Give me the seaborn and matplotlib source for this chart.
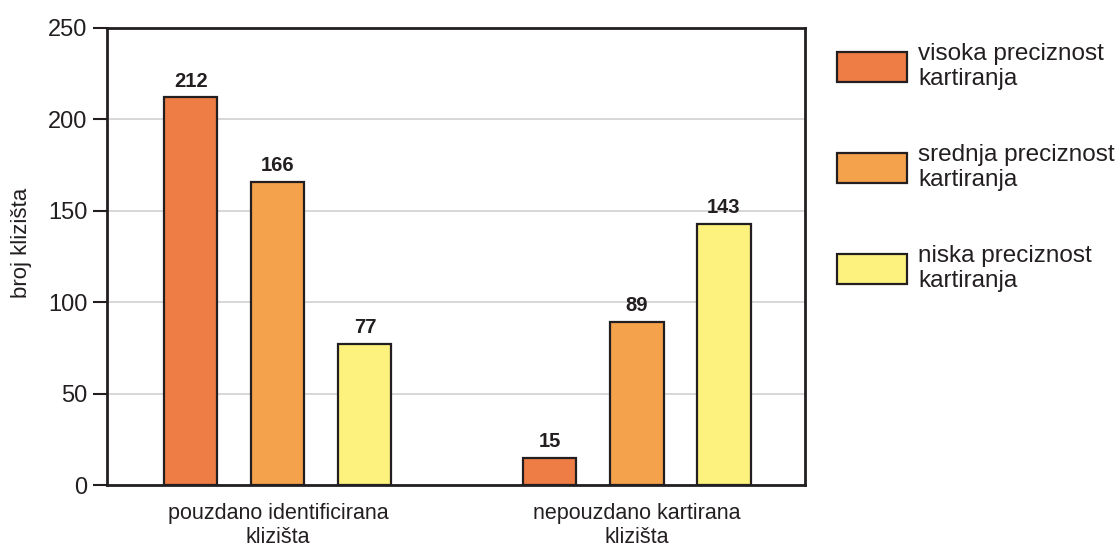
import matplotlib
matplotlib.use("Agg")
import matplotlib.pyplot as plt
import pandas as pd
import seaborn as sns
from matplotlib.patches import Patch

# data
groups = ["pouzdano identificirana\nklizišta", "nepouzdano kartirana\nklizišta"]
classes = ["visoka preciznost\nkartiranja", "srednja preciznost\nkartiranja", "niska preciznost\nkartiranja"]
high_vals = [212, 15]
mid_vals = [166, 89]
low_vals = [77, 143]
colors = ["#EE7D45", "#F4A24C", "#FDF27E"]

rows = []
for i, g in enumerate(groups):
    for cls, vals in zip(classes, [high_vals, mid_vals, low_vals]):
        rows.append({"grupa": g, "preciznost": cls, "broj": vals[i]})
df = pd.DataFrame(rows)

sns.set_theme(style="white")
plt.rcParams["font.family"] = ["Liberation Sans", "DejaVu Sans"]
txt = "#231f20"

fig = plt.figure(figsize=(11.2, 5.48), dpi=100)
ax = fig.add_axes([107 / 1120, 1 - 485 / 548, 698 / 1120, 457 / 548])

sns.barplot(data=df, x="grupa", y="broj", hue="preciznost", palette=colors,
            saturation=1, width=0.727, gap=0.39, edgecolor=txt, linewidth=1.6,
            legend=False, ax=ax, zorder=3)

for cont in ax.containers:
    ax.bar_label(cont, padding=5, fontsize=14.5, fontweight="bold", color=txt)

ax.set_ylim(0, 250)
ax.set_xlim(-0.476, 1.468)
ax.set_yticks([0, 50, 100, 150, 200, 250])
ax.yaxis.grid(True, color="#d4d4d4", linewidth=1.3, zorder=0)
ax.set_axisbelow(True)
for side in ["left", "bottom", "top", "right"]:
    ax.spines[side].set_visible(True)
    ax.spines[side].set_color(txt)
    ax.spines[side].set_linewidth(2)
ax.tick_params(axis="y", left=True, length=10, width=1.5, color=txt,
               labelsize=17, pad=4, labelcolor=txt)
ax.tick_params(axis="x", bottom=False, labelsize=15.5, pad=7, labelcolor=txt)
ax.set_xlabel("")
ax.set_ylabel("broj klizišta", fontsize=16, color=txt)
ax.yaxis.set_label_coords(-0.108, 0.53)

handles = [Patch(facecolor=c, edgecolor=txt, linewidth=1.6) for c in colors]
fig.legend(handles, classes, loc="upper left", bbox_to_anchor=(837 / 1120, 1 - 43 / 548),
           frameon=False, fontsize=17.5, handlelength=2.9, handleheight=1.5,
           labelspacing=2.2, handletextpad=0.45, labelcolor=txt,
           borderpad=0, borderaxespad=0)

fig.savefig("out.png", dpi=100)
